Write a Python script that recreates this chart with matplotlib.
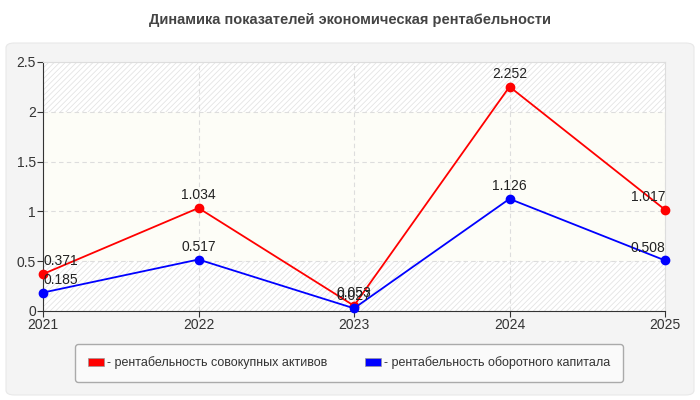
import matplotlib
matplotlib.use("Agg")
from matplotlib import pyplot as plt
from matplotlib.patches import FancyBboxPatch, Patch

plt.rcParams['font.family'] = ['Liberation Sans', 'DejaVu Sans']
plt.rcParams['hatch.linewidth'] = 0.6

years = ['2021', '2022', '2023', '2024', '2025']
assets = [0.371, 1.034, 0.053, 2.252, 1.017]
capital = [0.185, 0.517, 0.027, 1.126, 0.508]
labels = ['рентабельность совокупных активов', 'рентабельность оборотного капитала']
colors = ['#ff0000', '#0000ff']
title = 'Динамика показателей экономическая рентабельности'
yticks = [0, 0.5, 1, 1.5, 2, 2.5]

fig = plt.figure(figsize=(7, 4), dpi=100)
fig.patch.set_facecolor('white')

# grey panel behind the chart
panel = FancyBboxPatch((6 / 700, 5 / 400), 688 / 700, 352 / 400,
                       boxstyle='round,pad=0,rounding_size=0.012',
                       transform=fig.transFigure, facecolor='#f4f4f4',
                       edgecolor='#e8e8e8', lw=0.8, zorder=-5)
fig.patches.append(panel)

fig.text(0.5, 1 - 20 / 400, title, ha='center', va='center',
         fontsize=10.5, fontweight='bold', color='#444444')

ax = fig.add_axes([43 / 700, 1 - 311 / 400, 622 / 700, 249 / 400])
ax.set_facecolor('#fdfdf7')
for lo, hi in [(0, 0.5), (2, 2.5)]:
    ax.axhspan(lo, hi, facecolor='white', edgecolor='#e4e4e4', hatch='//////', lw=0, zorder=0)

x = list(range(len(years)))
for vals, c in zip([assets, capital], colors):
    ax.plot(x, vals, color=c, lw=1.3, marker='o', ms=6, zorder=3, clip_on=False)
    for i, v in enumerate(vals):
        ha = 'center'
        if i == 0:
            ha = 'left'
        elif i == len(vals) - 1:
            ha = 'right'
        ax.annotate(f'{v:g}', (i, v), xytext=(0, 4), textcoords='offset points',
                    ha=ha, va='bottom', fontsize=10, color='#222222', zorder=4)

ax.set_xlim(0, len(years) - 1)
ax.set_ylim(0, 2.5)
ax.set_xticks(x)
ax.set_xticklabels(years)
ax.set_yticks(yticks)
ax.set_yticklabels([f'{t:g}' for t in yticks])
ax.grid(True, ls=(0, (4, 3)), color='#dddddd', lw=0.8)
ax.set_axisbelow(True)
ax.tick_params(labelsize=10, colors='#333333', length=4, width=0.8, pad=1)
for s in ['top', 'right']:
    ax.spines[s].set_color('#dddddd')
for s in ['left', 'bottom']:
    ax.spines[s].set_color('#333333')

handles = [Patch(facecolor=c, edgecolor='#999999', lw=0.5) for c in colors]
leg = fig.legend(handles, ['- ' + l for l in labels], loc='center',
                 bbox_to_anchor=(349 / 700, 1 - 363 / 400), ncol=2, fontsize=9,
                 frameon=True, fancybox=True, handlelength=1.3, handleheight=0.6,
                 handletextpad=0.25, columnspacing=3.0, borderpad=1.0,
                 borderaxespad=0, labelcolor='#333333')
leg.get_frame().set_facecolor('#fafafa')
leg.get_frame().set_edgecolor('#aaaaaa')
leg.get_frame().set_alpha(1)

fig.savefig('out.png', dpi=100)
